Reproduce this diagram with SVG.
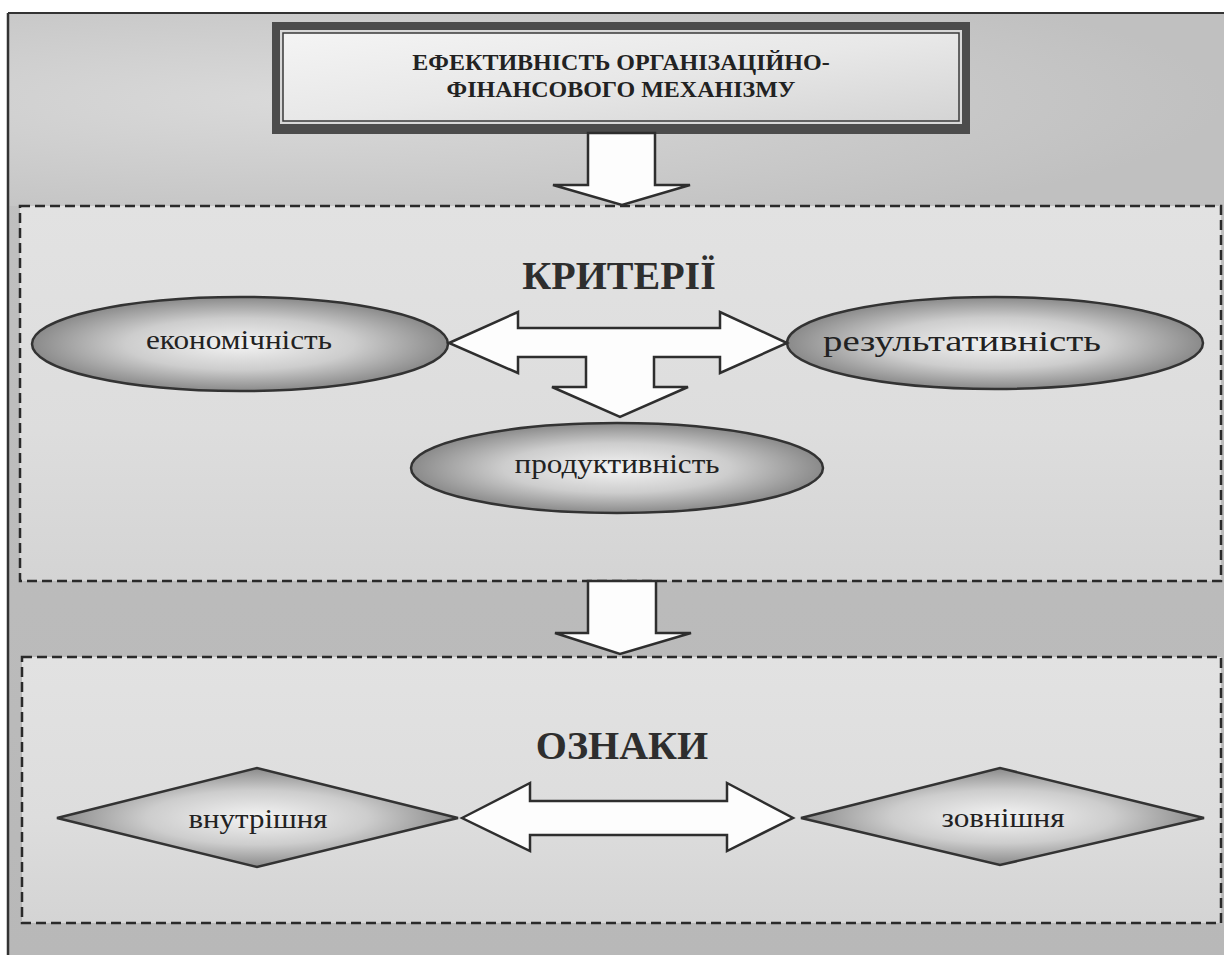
<svg xmlns="http://www.w3.org/2000/svg" width="1224" height="955" viewBox="0 0 1224 955">
<defs>
<linearGradient id="bgGrad" x1="0" y1="0" x2="0" y2="1">
<stop offset="0" stop-color="#c2c2c2"/>
<stop offset="0.5" stop-color="#bcbcbc"/>
<stop offset="1" stop-color="#b8b8b8"/>
</linearGradient>
<radialGradient id="topGlow" cx="0.25" cy="0.45" r="0.75">
<stop offset="0" stop-color="#dadada"/>
<stop offset="1" stop-color="#c0c0c0"/>
</radialGradient>
<linearGradient id="panelGrad" x1="0" y1="0" x2="0" y2="1">
<stop offset="0" stop-color="#e2e2e2"/>
<stop offset="0.6" stop-color="#dddddd"/>
<stop offset="1" stop-color="#d4d4d4"/>
</linearGradient>
<linearGradient id="titleGrad" x1="0" y1="0" x2="1" y2="1">
<stop offset="0" stop-color="#f4f4f4"/>
<stop offset="0.5" stop-color="#e8e8e8"/>
<stop offset="1" stop-color="#d4d4d4"/>
</linearGradient>
<radialGradient id="shapeGrad" cx="0.5" cy="0.5" r="0.5">
<stop offset="0" stop-color="#f4f4f4"/>
<stop offset="0.55" stop-color="#cdcdcd"/>
<stop offset="1" stop-color="#8a8a8a"/>
</radialGradient>
</defs>
<style>
.frame{fill:none;stroke:#2a2a2a;stroke-width:2.5;stroke-dasharray:10 5}
.shape{fill:url(#shapeGrad);stroke:#333;stroke-width:2.5}
.arrow{fill:#fdfdfd;stroke:#2e2e2e;stroke-width:2.5;stroke-linejoin:miter}
.lbl{font-family:"Liberation Serif","Times New Roman",serif;fill:#222;text-anchor:middle}
.head{font-family:"Liberation Serif","Times New Roman",serif;fill:#2e2e2e;font-weight:bold;text-anchor:middle;font-size:40px}
</style>
<rect x="0" y="0" width="1224" height="955" fill="#ffffff"/>
<rect x="8" y="13" width="1216" height="942" fill="url(#bgGrad)"/>
<rect x="8" y="13" width="1216" height="193" fill="url(#topGlow)"/>
<line x1="8" y1="13" x2="1224" y2="13" stroke="#333" stroke-width="2"/>
<line x1="8" y1="13" x2="8" y2="955" stroke="#333" stroke-width="2.5"/>

<g id="panel-criteria">
<rect x="20" y="206" width="1201" height="375" fill="url(#panelGrad)"/>
<rect class="frame" x="20" y="206" width="1201" height="375"/>
</g>
<g id="panel-signs">
<rect x="22" y="657" width="1199" height="266" fill="url(#panelGrad)"/>
<rect class="frame" x="22" y="657" width="1199" height="266"/>
</g>

<g id="node-title">
<rect x="272" y="22" width="698" height="112" fill="#4c4c4c"/>
<rect x="280" y="30" width="682" height="94" fill="#d8d8d8"/>
<rect x="283" y="33" width="676" height="88" fill="url(#titleGrad)" stroke="#3a3a3a" stroke-width="1.5"/>
<text class="lbl" x="621" y="70" font-size="24" font-weight="bold">ЕФЕКТИВНІСТЬ ОРГАНІЗАЦІЙНО-</text>
<text class="lbl" x="621" y="97" font-size="24" font-weight="bold">ФІНАНСОВОГО МЕХАНІЗМУ</text>
</g>

<g id="node-criteria">
<text class="head" x="619" y="289">КРИТЕРІЇ</text>
</g>

<g id="node-econ">
<ellipse class="shape" cx="240" cy="344" rx="208" ry="47"/>
<text class="lbl" x="239" y="349" font-size="28" textLength="186" lengthAdjust="spacingAndGlyphs">економічність</text>
</g>

<g id="node-result">
<ellipse class="shape" cx="995" cy="343" rx="208" ry="46"/>
<text class="lbl" x="962" y="351" font-size="29" textLength="278" lengthAdjust="spacingAndGlyphs">результативність</text>
</g>

<g id="node-prod">
<ellipse class="shape" cx="617" cy="468" rx="206" ry="45"/>
<text class="lbl" x="617" y="473" font-size="28" textLength="205" lengthAdjust="spacingAndGlyphs">продуктивність</text>
</g>

<g id="node-signs">
<text class="head" x="622" y="759">ОЗНАКИ</text>
</g>

<g id="node-internal">
<polygon class="shape" points="57,818 257,768 458,818 257,867"/>
<text class="lbl" x="258" y="828" font-size="28" textLength="139" lengthAdjust="spacingAndGlyphs">внутрішня</text>
</g>

<g id="node-external">
<polygon class="shape" points="801,818 1000,768 1204,818 1000,865"/>
<text class="lbl" x="1003" y="827" font-size="27" textLength="123" lengthAdjust="spacingAndGlyphs">зовнішня</text>
</g>

<g id="connectors">
<polygon class="arrow" points="588,133 655,133 655,185 690,185 622,205 553,185 588,185"/>
<polygon class="arrow" points="449,343 518,312 518,328 720,328 720,312 787,343 720,373 720,357 654,357 654,387 688,387 620,417 552,387 586,387 586,357 518,357 518,373"/>
<polygon class="arrow" points="588,581 656,581 656,633 691,633 620,654 555,633 588,633"/>
<polygon class="arrow" points="462,818 530,783 530,801 727,801 727,783 793,818 727,851 727,835 530,835 530,851"/>
</g>
</svg>
